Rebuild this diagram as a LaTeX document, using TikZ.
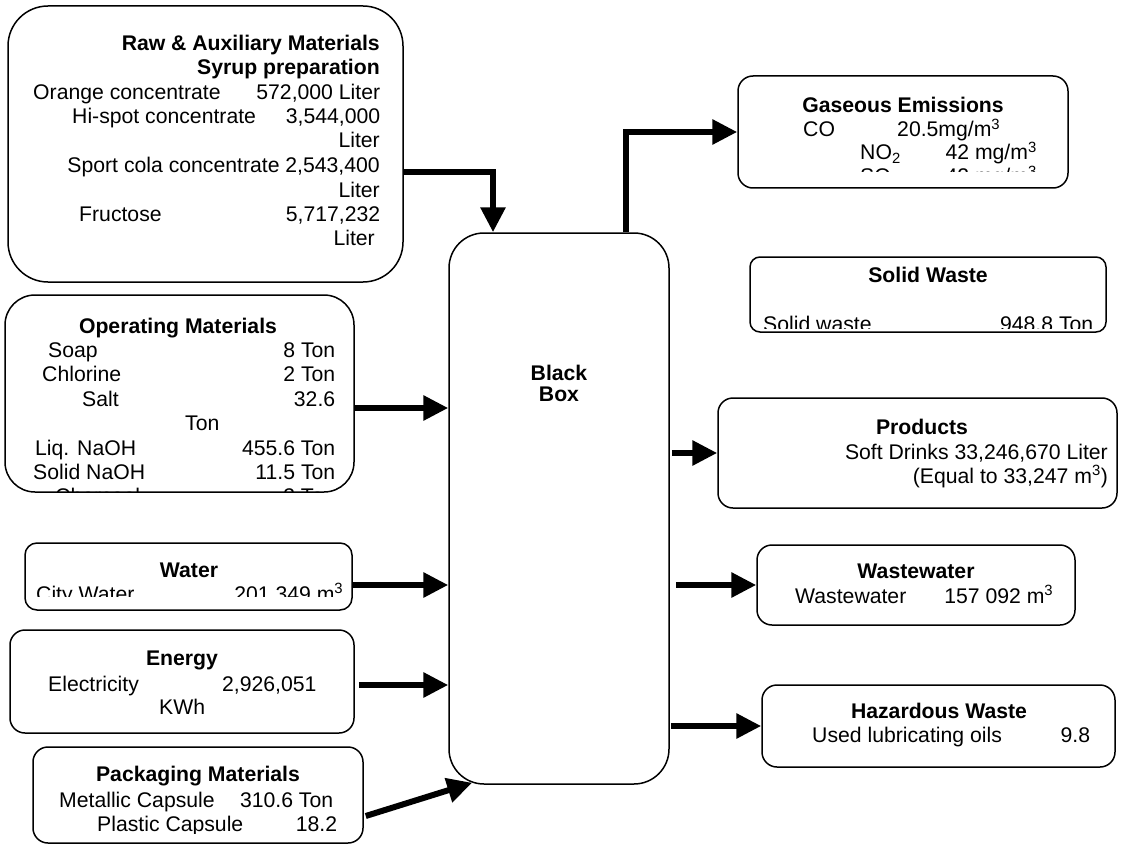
\documentclass[tikz,border=0pt]{standalone}
\usepackage{fontspec}
\setmainfont{Liberation Sans}
\usetikzlibrary{arrows.meta}
\newcommand\rowpair[3]{\hbox to #1pt{#2\hfill #3}}

\begin{document}
\begin{tikzpicture}[x=1pt,y=-1pt,
  box/.style={draw,line width=1.5pt,rounded corners=#1,inner sep=0pt},
  box/.default=15pt,
  txt/.style={inner sep=0pt,font=\fontsize{21.2}{24.4}\selectfont},
  ttl/.style={txt,font=\fontsize{21.2}{24.4}\selectfont\bfseries},
  flow/.style={line width=6pt,-{Triangle[length=25pt,width=24pt]}}]
\useasboundingbox (0,0) rectangle (1126,845);

\node[box=40pt,minimum width=395pt,minimum height=276pt] (raw) at (205.5,144) {};
\node[box=30pt,minimum width=349pt,minimum height=197pt] (opm) at (179.5,393.5) {};
\node[box=12pt,minimum width=327pt,minimum height=67pt] (wtr) at (188.5,576.5) {};
\node[box,minimum width=344pt,minimum height=103pt] (eny) at (182,681.5) {};
\node[box,minimum width=330pt,minimum height=96pt] (pkg) at (198,795) {};
\node[box=35pt,minimum width=220pt,minimum height=551pt] (bb) at (559,508.5) {};
\node[box,minimum width=330pt,minimum height=112pt] (gas) at (903,132) {};
\node[box=10pt,minimum width=356pt,minimum height=75pt] (sol) at (928,294.5) {};
\node[box,minimum width=399pt,minimum height=110pt] (prod) at (917.5,453) {};
\node[box,minimum width=318pt,minimum height=80pt] (ww) at (916,585) {};
\node[box,minimum width=353pt,minimum height=82pt] (hz) at (938.5,726) {};

\begin{scope}
\clip (10,8) rectangle (401,258);
\node[ttl,anchor=base east] (rawt1) at (380,50.5) {Raw \& Auxiliary Materials};
\node[ttl,anchor=base east] (rawt2) at (380,75) {Syrup preparation};
\node[txt,anchor=base west] (raw1) at (33,99.3) {\rowpair{347}{Orange concentrate}{572,000 Liter}};
\node[txt,anchor=base west] (raw2) at (72,123.7) {\rowpair{308}{Hi-spot concentrate}{3,544,000}};
\node[txt,anchor=base east] (raw3) at (380,148) {Liter};
\node[txt,anchor=base east] (raw4) at (380,172.5) {Sport cola concentrate 2,543,400};
\node[txt,anchor=base east] (raw5) at (380,197) {Liter};
\node[txt,anchor=base west] (raw6) at (79,221.3) {\rowpair{301}{Fructose}{5,717,232}};
\node[txt,anchor=base east] (raw7) at (375,245.7) {Liter};
\end{scope}

\begin{scope}
\clip (7,297) rectangle (352,491);
\node[ttl,anchor=base] (opmt) at (178,333) {Operating Materials};
\node[txt,anchor=base west] (opm1) at (48,357.4) {\rowpair{287}{Soap}{8 Ton}};
\node[txt,anchor=base west] (opm2) at (42,381.8) {\rowpair{293}{Chlorine}{2 Ton}};
\node[txt,anchor=base west] (opm3) at (82,406.2) {\rowpair{253}{Salt}{32.6}};
\node[txt,anchor=base west] (opm4) at (185,430.6) {Ton};
\node[txt,anchor=base west] (opm5) at (35,455) {\rowpair{300}{Liq. NaOH}{455.6 Ton}};
\node[txt,anchor=base west] (opm6) at (33,479.4) {\rowpair{302}{Solid NaOH}{11.5 Ton}};
\node[txt,anchor=base west] (opm7) at (55,503.8) {\rowpair{280}{Charcoal}{3 Ton}};
\end{scope}

\begin{scope}
\clip (27,545) rectangle (350,596);
\node[ttl,anchor=base] (wtrt) at (189,577) {Water};
\node[txt,anchor=base west] (wtr1) at (36,601) {\rowpair{307}{City Water}{201,349 m\textsuperscript{3}}};
\end{scope}

\node[ttl,anchor=base] (enyt) at (182,665) {Energy};
\node[txt,anchor=base west] (eny1) at (48,691) {Electricity};
\node[txt,anchor=base west] (eny2) at (222,691) {2,926,051};
\node[txt,anchor=base west] (eny3) at (159,714) {KWh};

\begin{scope}
\clip (35,749) rectangle (361,833);
\node[ttl,anchor=base] (pkgt) at (198,781) {Packaging Materials};
\node[txt,anchor=base west] (pkg1) at (59,807) {\rowpair{274}{Metallic Capsule}{310.6 Ton}};
\node[txt,anchor=base west] (pkg2) at (97,831) {\rowpair{240}{Plastic Capsule}{18.2}};
\end{scope}

\node[ttl,anchor=base] (bbt1) at (559,380) {Black};
\node[ttl,anchor=base] (bbt2) at (559,401) {Box};

\begin{scope}
\clip (740,78) rectangle (1066,172);
\node[ttl,anchor=base] (gast) at (903,113) {Gaseous Emissions};
\node[txt,anchor=base west] (gas1) at (803,137) {CO};
\node[txt,anchor=base west] (gas2) at (897,137) {20.5mg/m\textsuperscript{3}};
\node[txt,anchor=base west] (gas3) at (860,160) {NO\textsubscript{2}};
\node[txt,anchor=base east] (gas4) at (1037,160) {42 mg/m\textsuperscript{3}};
\node[txt,anchor=base west] (gas5) at (860,184) {SO\textsubscript{2}};
\node[txt,anchor=base east] (gas6) at (1037,184) {42 mg/m\textsuperscript{3}};
\end{scope}

\begin{scope}
\clip (752,259) rectangle (1104,328);
\node[ttl,anchor=base] (solt) at (928,282) {Solid Waste};
\node[txt,anchor=base west] (sol1) at (763,331) {\rowpair{330}{Solid waste}{948.8 Ton}};
\end{scope}

\node[ttl,anchor=base] (prodt) at (922,434) {Products};
\node[txt,anchor=base east] (prod1) at (1108,459) {Soft Drinks 33,246,670 Liter};
\node[txt,anchor=base east] (prod2) at (1108,483) {(Equal to 33,247 m\textsuperscript{3})};

\node[ttl,anchor=base] (wwt) at (916,578) {Wastewater};
\node[txt,anchor=base west] (ww1) at (795,603) {\rowpair{258}{Wastewater}{157 092 m\textsuperscript{3}}};

\node[ttl,anchor=base] (hzt) at (939,718) {Hazardous Waste};
\node[txt,anchor=base west] (hz1) at (812,742) {\rowpair{278}{Used lubricating oils}{9.8}};

\coordinate (opmout) at ([yshift=-14.5pt]opm.east);
\coordinate (wtrout) at ([yshift=-8.5pt]wtr.east);
\coordinate (enyout) at ([xshift=4pt,yshift=-3.5pt]eny.east);
\coordinate (prodin) at (prod.west -| bb.east);
\coordinate (wwin) at (ww.west -| bb.east);
\coordinate (hzin) at (hz.west -| bb.east);

\draw[flow] ([yshift=-28pt]raw.east) -| ([xshift=-66pt]bb.north);
\draw[flow] (opmout) -- (opmout -| bb.west);
\draw[flow] (wtrout) -- (wtrout -| bb.west);
\draw[flow] (enyout) -- (enyout -| bb.west);
\draw[flow] ([xshift=2pt,yshift=-21pt]pkg.east) -- ([xshift=24pt,yshift=2pt]bb.south west);
\draw[flow] ([xshift=67pt]bb.north) |- (gas.west);
\draw[flow] ([xshift=2pt]prodin) -- (prod.west);
\draw[flow] ([xshift=6pt]wwin) -- (ww.west);
\draw[flow] ([xshift=1pt]hzin) -- (hz.west);
\end{tikzpicture}
\end{document}
